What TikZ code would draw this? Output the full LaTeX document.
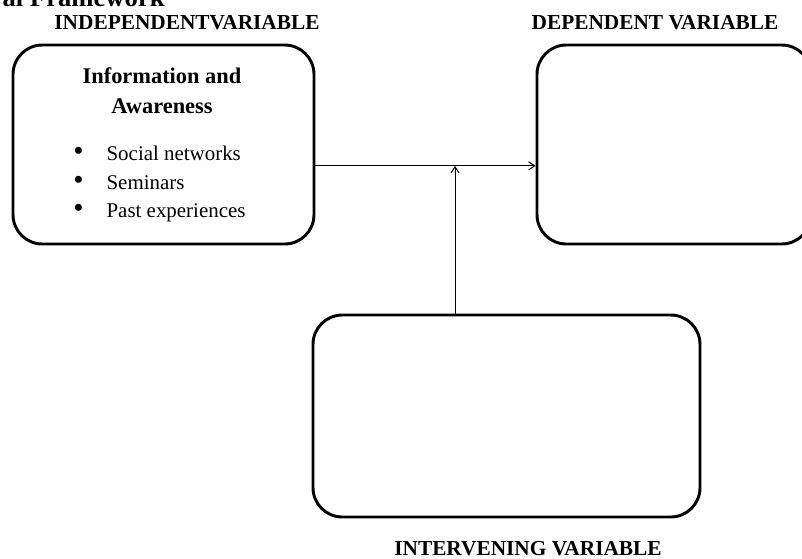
\documentclass[tikz,border=0pt]{standalone}
\usepackage{fontspec}
\setmainfont{Liberation Serif}
\usetikzlibrary{positioning,arrows.meta}

\begin{document}
\begin{tikzpicture}[x=0.75pt, y=-0.75pt, >={Straight Barb[length=4.5pt,width=6pt]},
  varbox/.style={draw, line width=2.2pt, rounded corners=22pt, inner sep=0pt},
  head/.style={font=\fontsize{16}{19}\selectfont\bfseries, inner sep=0pt, anchor=base},
  item/.style={font=\fontsize{15.7}{18}\selectfont, inner sep=0pt, anchor=base west}]
  \useasboundingbox (0,0) rectangle (802,558);
  % title, cut at the top of the page
  \node[font=\fontsize{20}{23}\selectfont\bfseries, inner sep=0pt, anchor=base east] (title) at (165,6) {al Framework};
  % the three variable boxes
  \node[varbox, minimum width=225.75pt, minimum height=149.25pt] (indep) at (163.5,144.5) {};
  \node[varbox, minimum width=205.5pt, minimum height=149.25pt]  (dep)   at (674,144.5) {};
  \node[varbox, minimum width=290.25pt, minimum height=151.5pt]  (inter) at (506.5,416) {};
  \node[head] (indeplabel) at (187,29)  {INDEPENDENTVARIABLE};
  \node[head] (deplabel)   at (655,29)  {DEPENDENT VARIABLE};
  \node[head] (interlabel) at (528,555) {INTERVENING VARIABLE};
  % contents of the independent variable
  \node[head, font=\fontsize{16.8}{19}\selectfont\bfseries] (infohead) at (162,83)  {Information and};
  \node[head, font=\fontsize{16.8}{19}\selectfont\bfseries] (awarehead) at (162,113) {Awareness};
  \node[item] (social) at (73,160) {\makebox[25pt][l]{\scalebox{1.4}{\textbullet}}Social networks};
  \node[item] (semin)  at (73,189) {\makebox[25pt][l]{\scalebox{1.4}{\textbullet}}Seminars};
  \node[item] (past)   at (73,217) {\makebox[25pt][l]{\scalebox{1.4}{\textbullet}}Past experiences};
  % links
  \draw[->, line width=0.8pt] ([yshift=-16pt]indep.east) coordinate (link) -- ([yshift=-16pt]dep.west);
  \draw[->, line width=0.8pt] ([xshift=-38.6pt]inter.north) coordinate (up) -- (up |- link);
\end{tikzpicture}
\end{document}
